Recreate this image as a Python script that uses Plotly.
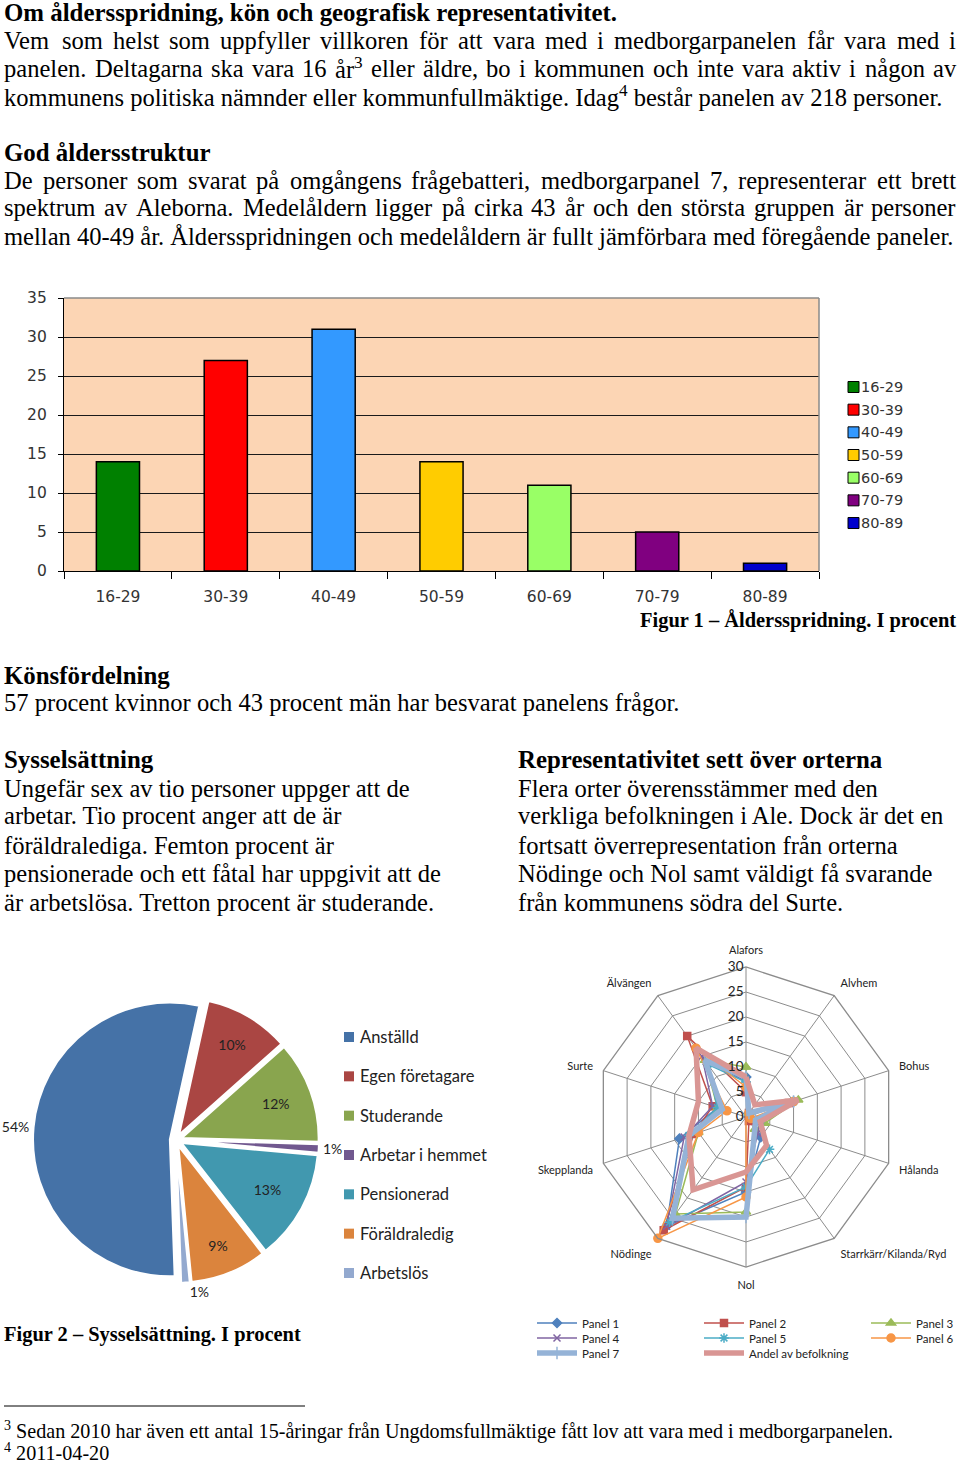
import re
import plotly.graph_objects as go

W, H = 960, 1464


def X(x):
    return x / W


def Y(y):
    return 1 - y / H


# ---------------- data ----------------
age_groups = ["16-29", "30-39", "40-49", "50-59", "60-69", "70-79", "80-89"]
age_share = [14, 27, 31, 14, 11, 5, 1]
age_colors = ["#008000", "#FF0000", "#3399FF", "#FFCC00", "#99FF66", "#800080", "#0000CC"]
age_ticks = [0, 5, 10, 15, 20, 25, 30, 35]

occupations = ["Anställd", "Egen företagare", "Studerande", "Arbetar i hemmet",
               "Pensionerad", "Föräldraledig", "Arbetslös"]
occupation_share = [54, 10, 12, 1, 13, 9, 1]
occupation_colors = ["#4572A7", "#AA4643", "#89A54E", "#71588F", "#4198AF", "#DB843D", "#93A9CF"]

places = ["Alafors", "Alvhem", "Bohus", "Hålanda", "Starrkärr/Kilanda/Ryd",
          "Nol", "Nödinge", "Skepplanda", "Surte", "Älvängen"]
panel_1 = [8, 1, 10, 3, 5, 15, 27, 14, 6, 13]
panel_2 = [5, 1, 9, 2, 1, 14, 28, 11, 7, 20]
panel_3 = [10, 1, 11, 4, 3, 19, 24, 10, 6, 14]
panel_4 = [7, 1, 9, 3, 4, 13, 27, 13, 7, 15]
panel_5 = [7, 1, 10, 3, 8, 14, 26, 12, 6, 13]
panel_6 = [6, 1, 10, 1, 0, 16, 30, 10, 4, 17]
panel_7 = [8, 1, 10, 2, 3, 20, 25, 12, 5, 14]
andel_befolkning = [8, 3, 11, 3, 7, 11, 18, 12, 10, 17]
radar_ticks = [0, 5, 10, 15, 20, 25, 30]

# ---------------- text metrics (Times / Liberation Serif) ----------------
REG, BOLD = {}, {}


def _set(tbl, chars, w):
    for c in chars:
        tbl[c] = w


_set(REG, " ,.", 250); _set(REG, "ijlt/:;", 278); _set(REG, "frI()-", 333)
_set(REG, "sJ", 389); _set(REG, "acezåäé", 444)
_set(REG, "bdghknopquvxyö0123456789–", 500); _set(REG, "FPS", 556)
_set(REG, "ELTZ", 611); _set(REG, "BCR", 667); _set(REG, "ADGHKNOQUVXYÅÄÖw", 722)
_set(REG, "m", 778); _set(REG, "M", 889); _set(REG, "W", 944); _set(REG, "%", 833)

_set(BOLD, " ,.", 250); _set(BOLD, "il", 278); _set(BOLD, "ftj-", 333)
_set(BOLD, "sI", 389); _set(BOLD, "cerzé", 444)
_set(BOLD, "agovxyåäö0123456789–J", 500); _set(BOLD, "bdhknpquS", 556)
_set(BOLD, "FP", 611); _set(BOLD, "ETLZB", 667); _set(BOLD, "ACDNRUVXYÅÄw", 722)
_set(BOLD, "GHKOÖ", 778); _set(BOLD, "m", 833); _set(BOLD, "M", 944); _set(BOLD, "W", 1000)


def text_width(s, size, bold=False):
    tbl = BOLD if bold else REG
    total = 0.0
    for p in re.split(r"(<sup>.*?</sup>)", s):
        if p.startswith("<sup>"):
            total += 0.7 * sum(tbl.get(c, 500) for c in p[5:-6])
        else:
            total += sum(tbl.get(c, 500) for c in p)
    return total * size / 1000


SERIF = "Liberation Serif"
SANS = "Lato"
annotations = []
shapes = []


def add_text(x, y, s, size, bold=False, anchor="left", family=SERIF, color="black"):
    txt = f"<b>{s}</b>" if bold else s
    annotations.append(dict(x=X(x), y=Y(y), xref="paper", yref="paper", text=txt,
                            showarrow=False, xanchor=anchor, yanchor="middle",
                            font=dict(family=family, size=size, color=color),
                            borderpad=0, borderwidth=0))


def add_justified(y, s, size, x0=4, x1=956):
    words = s.split(" ")
    widths = [text_width(w, size) for w in words]
    gap = (x1 - x0 - sum(widths)) / (len(words) - 1)
    x = x0
    for w, wd in zip(words, widths):
        add_text(x, y, w, size)
        x += wd + gap


# font sizes derived from reference line widths
S_BODY = 677 / text_width("57 procent kvinnor och 43 procent män har besvarat panelens frågor.", 1)
H1 = "Om åldersspridning, kön och geografisk representativitet."
S_HEAD = 614 / text_width(H1, 1, True)
CAP1 = "Figur 1 – Åldersspridning. I procent"
S_CAP = 317 / text_width(CAP1, 1, True)
FOOT3 = "<sup>3</sup> Sedan 2010 har även ett antal 15-åringar från Ungdomsfullmäktige fått lov att vara med i medborgarpanelen."
S_FOOT = 890 / text_width(FOOT3, 1)

# ---------------- document text ----------------
add_text(4, 12, H1, S_HEAD, bold=True)
add_justified(40, "Vem som helst som uppfyller villkoren för att vara med i medborgarpanelen får vara med i", S_BODY)
add_justified(68, "panelen. Deltagarna ska vara 16 år<sup>3</sup> eller äldre, bo i kommunen och inte vara aktiv i någon av", S_BODY)
add_text(4, 96, "kommunens politiska nämnder eller kommunfullmäktige. Idag<sup>4</sup> består panelen av 218 personer.", S_BODY)

add_text(4, 152, "God åldersstruktur", S_HEAD, bold=True)
add_justified(180, "De personer som svarat på omgångens frågebatteri, medborgarpanel 7, representerar ett brett", S_BODY)
add_justified(208, "spektrum av Aleborna. Medelåldern ligger på cirka 43 år och den största gruppen är personer", S_BODY)
add_text(4, 237, "mellan 40-49 år. Åldersspridningen och medelåldern är fullt jämförbara med föregående paneler.", S_BODY)

add_text(956, 620, CAP1, S_CAP, bold=True, anchor="right")

add_text(4, 675, "Könsfördelning", S_HEAD, bold=True)
add_text(4, 703, "57 procent kvinnor och 43 procent män har besvarat panelens frågor.", S_BODY)

add_text(4, 759, "Sysselsättning", S_HEAD, bold=True)
left_col = ["Ungefär sex av tio personer uppger att de",
            "arbetar. Tio procent anger att de är",
            "föräldralediga. Femton procent är",
            "pensionerade och ett fåtal har uppgivit att de",
            "är arbetslösa. Tretton procent är studerande."]
add_text(518, 759, "Representativitet sett över orterna", S_HEAD, bold=True)
right_col = ["Flera orter överensstämmer med den",
             "verkliga befolkningen i Ale. Dock är det en",
             "fortsatt överrepresentation från orterna",
             "Nödinge och Nol samt väldigt få svarande",
             "från kommunens södra del Surte."]
col_y = [788, 816, 845, 873, 902]
for yy, a, b in zip(col_y, left_col, right_col):
    add_text(4, yy, a, S_BODY)
    add_text(518, yy, b, S_BODY)

add_text(4, 1334, "Figur 2 – Sysselsättning. I procent", S_CAP, bold=True)

shapes.append(dict(type="line", xref="paper", yref="paper", x0=X(4), x1=X(305),
                   y0=Y(1406), y1=Y(1406), line=dict(color="black", width=1)))
add_text(4, 1430, FOOT3, S_FOOT)
add_text(4, 1451, "<sup>4</sup> 2011-04-20", S_FOOT)

# ---------------- figure ----------------
fig = go.Figure()

# Bar chart
fig.add_trace(go.Bar(x=age_groups, y=age_share, width=0.4,
                     marker=dict(color=age_colors, line=dict(color="black", width=1.5)),
                     showlegend=False, hoverinfo="x+y"))

shapes.append(dict(type="line", xref="x domain", yref="y domain", x0=0, x1=1, y0=1, y1=1,
                   line=dict(color="#8a8a8a", width=1.5)))
shapes.append(dict(type="line", xref="x domain", yref="y domain", x0=1, x1=1, y0=0, y1=1,
                   line=dict(color="#8a8a8a", width=1.5)))

# Bar legend (custom)
BAR_FONT = "DejaVu Sans"
for i, (g, c) in enumerate(zip(age_groups, age_colors)):
    yc = 387 + i * 22.67
    shapes.append(dict(type="rect", xref="paper", yref="paper", x0=X(848), x1=X(859),
                       y0=Y(yc + 5.5), y1=Y(yc - 5.5), fillcolor=c,
                       line=dict(color="black", width=1)))
    add_text(861, yc, g, 14.5, family=BAR_FONT, color="#333333")

# Pie chart
pie_pos = ["outside", "inside", "inside", "outside", "inside", "inside", "outside"]
fig.add_trace(go.Pie(labels=occupations, values=occupation_share, sort=False,
                     direction="clockwise", rotation=178, pull=0.045,
                     marker=dict(colors=occupation_colors, line=dict(color="white", width=2)),
                     texttemplate="%{value}%", textposition=pie_pos,
                     insidetextorientation="horizontal",
                     textfont=dict(family=SANS, size=14, color="#222222"),
                     domain=dict(x=[X(33), X(319)], y=[Y(1283), Y(997)]),
                     showlegend=False))

# Pie legend (custom)
for i, (lab, c) in enumerate(zip(occupations, occupation_colors)):
    yc = 1037 + i * 39.33
    shapes.append(dict(type="rect", xref="paper", yref="paper", x0=X(344), x1=X(354),
                       y0=Y(yc + 5), y1=Y(yc - 5), fillcolor=c, line=dict(width=0)))
    add_text(360, yc, lab, 16.5, family=SANS, color="#222222")

# Radar chart
radar_series = [
    ("Panel 1", panel_1, "#4F81BD", "diamond", 1.5, 7, "legend"),
    ("Panel 2", panel_2, "#C0504D", "square", 1.5, 7, "legend"),
    ("Panel 3", panel_3, "#9BBB59", "triangle-up", 1.5, 8, "legend"),
    ("Panel 4", panel_4, "#8064A2", "x-thin-open", 1.5, 7, "legend2"),
    ("Panel 5", panel_5, "#4BACC6", "asterisk-open", 1.5, 8, "legend2"),
    ("Panel 6", panel_6, "#F79646", "circle", 1.5, 8, "legend2"),
    ("Panel 7", panel_7, "#95B3D7", "line-ns-open", 5.5, 9, "legend3"),
]
for name, vals, color, sym, lw, ms, leg in radar_series:
    fig.add_trace(go.Scatterpolar(
        r=vals + vals[:1], theta=places + places[:1], mode="lines+markers", name=name,
        line=dict(color=color, width=lw),
        marker=dict(symbol=sym, size=ms, color=color, line=dict(color=color, width=1.5)),
        legend=leg))
fig.add_trace(go.Scatterpolar(
    r=andel_befolkning + andel_befolkning[:1], theta=places + places[:1], mode="lines",
    name="Andel av befolkning", line=dict(color="#D99694", width=5.5), legend="legend3"))

leg_common = dict(orientation="h", xanchor="left", yanchor="middle",
                  font=dict(family=SANS, size=11.5, color="#222222"),
                  bgcolor="rgba(0,0,0,0)", entrywidth=112, itemwidth=40)

fig.update_layout(
    width=W, height=H, autosize=False,
    margin=dict(l=0, r=0, t=0, b=0, pad=0, autoexpand=False),
    paper_bgcolor="white", plot_bgcolor="#FCD5B4",
    showlegend=True,
    xaxis=dict(domain=[X(64), X(819)], anchor="y", type="category", range=[-0.5, 6.5],
               showgrid=False, showline=True, linecolor="black", linewidth=1.2,
               ticks="outside", tickson="boundaries", ticklen=7, tickcolor="black",
               tickfont=dict(family=BAR_FONT, size=15.5, color="#333333"),
               ticklabelstandoff=11, fixedrange=True),
    yaxis=dict(domain=[Y(571), Y(298)], anchor="x", range=[0, 35], tickvals=age_ticks,
               showgrid=True, gridcolor="#1a1a1a", gridwidth=1, zeroline=False,
               showline=True, linecolor="black", linewidth=1.2, ticks="outside",
               ticklen=5, tickcolor="black", ticklabelstandoff=8,
               tickfont=dict(family=BAR_FONT, size=15.5, color="#333333"), fixedrange=True),
    polar=dict(
        domain=dict(x=[X(596), X(896)], y=[Y(1267), Y(967)]),
        bgcolor="white", gridshape="linear",
        radialaxis=dict(range=[0, 30], tickvals=radar_ticks, angle=90, tickangle=90,
                        side="counterclockwise", showline=False, ticks="",
                        ticksuffix="\u2007\u2007\u2007",
                        gridcolor="#8c8c8c", gridwidth=1.3,
                        tickfont=dict(family=SANS, size=13.5, color="#222222")),
        angularaxis=dict(rotation=90, direction="clockwise", ticks="outside",
                         ticklen=8, tickcolor="rgba(0,0,0,0)",
                         gridcolor="#8c8c8c", gridwidth=1.3,
                         linecolor="#8c8c8c", linewidth=1.3,
                         tickfont=dict(family=SANS, size=11, color="#222222")),
    ),
    legend=dict(x=X(532), y=Y(1323), **leg_common),
    legend2=dict(x=X(532), y=Y(1338), **leg_common),
    legend3=dict(x=X(532), y=Y(1353), **leg_common),
    annotations=annotations,
    shapes=shapes,
)

fig.write_html("out.html")
